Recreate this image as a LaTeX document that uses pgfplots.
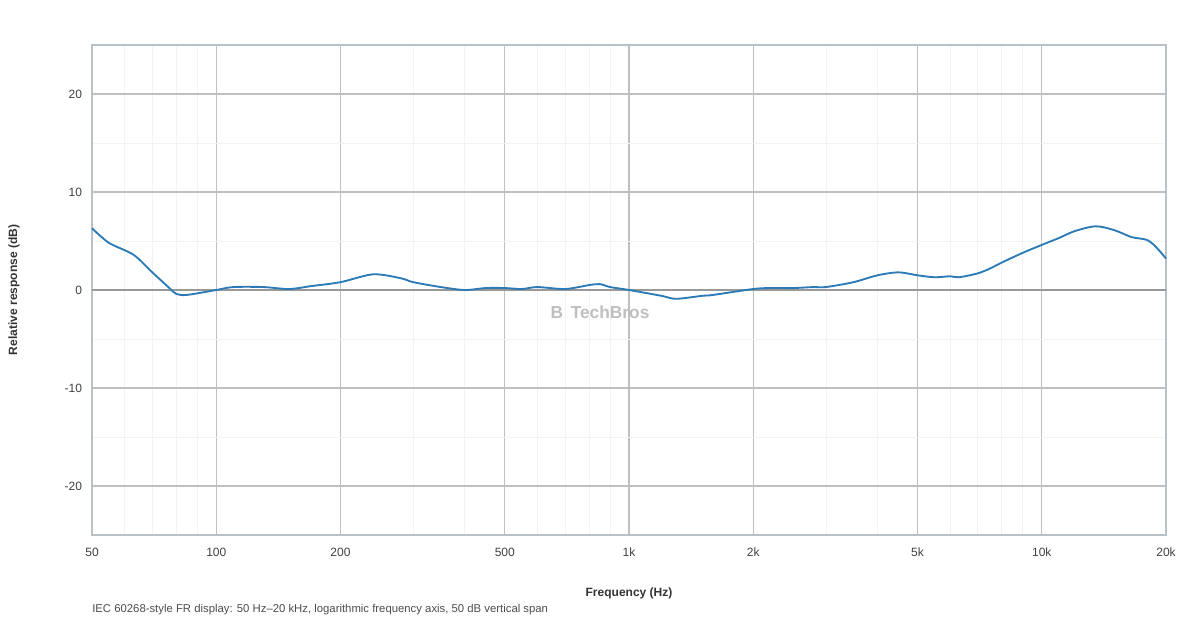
\documentclass[border=0pt]{standalone}
\usepackage{fontspec}
\setmainfont{Liberation Sans}
\usepackage{pgfplots}
\pgfplotsset{compat=1.18}
\definecolor{line}{HTML}{2C7BB6}
\definecolor{grid}{HTML}{DDE1E5}
\definecolor{mgrid}{HTML}{F1F3F5}
\definecolor{frame}{HTML}{B8C0C8}
\begin{document}
\begin{tikzpicture}
\useasboundingbox (0,0) rectangle (900pt,465pt);
\begin{axis}[
  at={(69pt,63.75pt)}, anchor=south west,
  scale only axis, width=805.5pt, height=367.5pt,
  xmode=log, xmin=50, xmax=20000, ymin=-25, ymax=25,
  xtick={50,100,200,500,1000,2000,5000,10000,20000},
  xticklabels={50,100,200,500,1k,2k,5k,10k,20k},
  minor xtick={60,70,80,90,300,400,600,700,800,900,3000,4000,6000,7000,8000,9000},
  ytick={-20,-10,0,10,20}, minor ytick={-15,-5,5,15},
  grid=both, major grid style={grid, line width=0.8pt}, minor grid style={mgrid, line width=0.6pt},
  axis line style={frame, line width=0.9pt},
  tick style={draw=none},
  tick label style={font=\fontsize{9}{10}\selectfont, text=black!75},
  /pgf/number format/assume math mode=true,
  xticklabel style={yshift=-6pt}, yticklabel style={xshift=-4pt},
  clip=false,
]
\addplot[draw=gray!80, line width=0.9pt, forget plot] coordinates {(50,0) (20000,0)};
\addplot[line, line width=1.4pt, smooth, tension=0.5] coordinates {
(50,6.3)(55,4.8)(63,3.6)(70,1.8)(77,0.2)(80,-0.4)(85,-0.5)(100,0)(110,0.3)(130,0.3)(150,0.1)(170,0.4)(200,0.8)(240,1.6)(280,1.2)(300,0.8)(350,0.3)(400,0)(450,0.2)(500,0.2)(550,0.1)(600,0.3)(700,0.1)(800,0.5)(850,0.6)(900,0.3)(1000,0)(1200,-0.6)(1300,-0.9)(1500,-0.6)(1600,-0.5)(2000,0.1)(2200,0.2)(2500,0.2)(2800,0.3)(3000,0.3)(3500,0.8)(4000,1.5)(4500,1.8)(5000,1.5)(5500,1.3)(6000,1.4)(6300,1.3)(7000,1.7)(7500,2.2)(8000,2.8)(9000,3.8)(10000,4.6)(11000,5.3)(12000,6.0)(13500,6.5)(15000,6.1)(16500,5.4)(18000,5.1)(19000,4.3)(20000,3.2)};
\end{axis}
\node[rotate=90, font=\fontsize{9}{10}\selectfont\bfseries, text=black!80] at (10.5pt,247.5pt) {Relative response (dB)};
\node[font=\fontsize{9}{10}\selectfont\bfseries, text=black!80] at (471.75pt,20.25pt) {Frequency (Hz)};
\node[anchor=west, inner sep=0pt, font=\fontsize{8.5}{10}\selectfont, text=black!70] at (69pt,7.5pt) {IEC 60268-style FR display: 50 Hz–20 kHz, logarithmic frequency axis, 50 dB vertical span};
\node[font=\fontsize{13}{14}\selectfont\bfseries, text=black!25] at (450pt,231pt) {B\, TechBros};
\end{tikzpicture}
\end{document}
